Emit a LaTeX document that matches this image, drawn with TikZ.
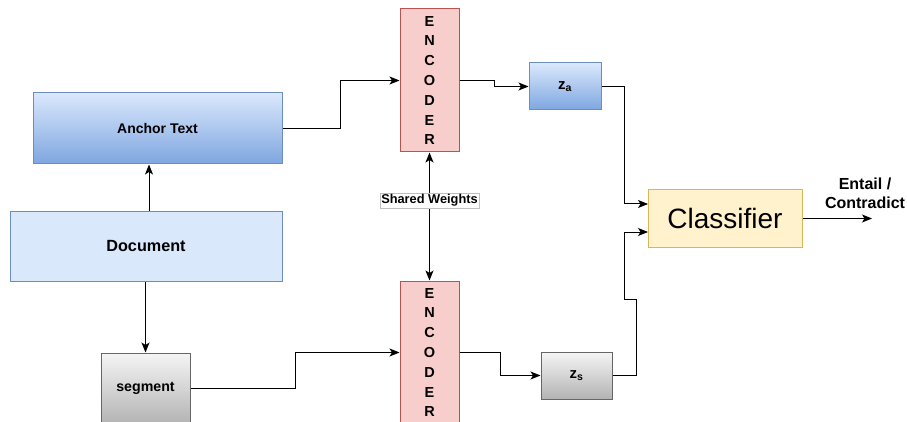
\documentclass[tikz,border=0pt]{standalone}
\usepackage{fontspec}
\setmainfont{Liberation Sans}
\usetikzlibrary{arrows.meta,calc}
\definecolor{blueL}{HTML}{DAE8FC}
\definecolor{blueD}{HTML}{7EA6E0}
\definecolor{blueB}{HTML}{6C8EBF}
\definecolor{grayL}{HTML}{F5F5F5}
\definecolor{grayD}{HTML}{B3B3B3}
\definecolor{grayB}{HTML}{666666}
\definecolor{redF}{HTML}{F8CECC}
\definecolor{redB}{HTML}{B85450}
\definecolor{yelF}{HTML}{FFF2CC}
\definecolor{yelB}{HTML}{D6B656}
\tikzset{
  box/.style={draw, line width=1pt, inner sep=0pt, align=center},
  bluegrad/.style={box, draw=blueB, top color=blueL, bottom color=blueD},
  bluebox/.style={box, draw=blueB, fill=blueL},
  graygrad/.style={box, draw=grayB, top color=grayL, bottom color=grayD},
  encbox/.style={box, draw=redB, fill=redF, minimum width=59pt, minimum height=143pt,
    font=\bfseries\fontsize{14.5}{19.8}\selectfont},
  clsbox/.style={box, draw=yelB, fill=yelF, minimum width=154pt, minimum height=57pt,
    font=\fontsize{28}{32}\selectfont},
  arr/.style={line width=1pt, -{Stealth[length=10pt,width=8pt,inset=2.5pt]}},
  dblarr/.style={line width=1pt, {Stealth[length=10pt,width=8pt,inset=2.5pt]}-{Stealth[length=10pt,width=8pt,inset=2.5pt]}},
  lbl/.style={draw=gray!50, line width=0.6pt, fill=white, inner sep=1.2pt,
    font=\bfseries\fontsize{12.8}{14}\selectfont},
}
\begin{document}
\begin{tikzpicture}[x=1pt,y=-1pt]
\useasboundingbox (0,0) rectangle (907,422);
\clip (0,0) rectangle (907,422);
% boxes
\node[bluegrad, minimum width=249pt, minimum height=71pt, font=\bfseries\fontsize{14}{16}\selectfont] (anchor) at (157.5,128.5) {Anchor Text};
\node[bluebox, minimum width=272pt, minimum height=70pt, font=\bfseries\fontsize{16.2}{18}\selectfont] (doc) at (146,246) {Document};
\node[graygrad, minimum width=89pt, minimum height=71pt, font=\bfseries\fontsize{14.2}{16}\selectfont] (seg) at (145.5,388.5) {segment};
\node[encbox] (enc1) at (429.5,80.5) {E\\N\\C\\O\\D\\E\\R};
\node[encbox] (enc2) at (429.5,352.5) {E\\N\\C\\O\\D\\E\\R};
\node[bluegrad, minimum width=72pt, minimum height=47pt, font=\bfseries\fontsize{15}{17}\selectfont] (za) at (565,86.5) {z\textsubscript{a}};
\node[graygrad, minimum width=71pt, minimum height=47pt, font=\bfseries\fontsize{15}{17}\selectfont] (zs) at (576.5,375.5) {z\textsubscript{s}};
\node[clsbox] (cls) at (725,218.5) {Classifier};
\node[align=center, inner sep=0pt, font=\bfseries\fontsize{16}{19.5}\selectfont] (res) at (865,193.5) {Entail /\\Contradict};
\coordinate (c1) at (648,204);
\coordinate (c2) at (648,232);
\coordinate (out) at (872,218.5);
% connectors
\draw[arr] (doc.north -| 149,0) -- (anchor.south -| 149,0);
\draw[arr] (anchor.east) -- ++(58,0) |- (enc1.west);
\draw[arr] (seg.north |- doc.south) -- (seg.north);
\draw[arr] (seg.east) -- ++(105,0) |- (enc2.west);
\draw[dblarr] (enc1.south) -- node[lbl, pos=0.376] (sw) {Shared Weights} (enc2.north);
\draw[arr] (enc1.east) -- ++(35,0) |- (za.west);
\draw[arr] (enc2.east) -- ++(41,0) |- (zs.west);
\draw[arr] (za.east) -- (624,86.5) |- (c1);
\draw[arr] (zs.east) -- (636,375.5) -- (636,299) -- (624,299) |- (c2);
\draw[arr] (cls.east) -- (out);
\end{tikzpicture}
\end{document}
